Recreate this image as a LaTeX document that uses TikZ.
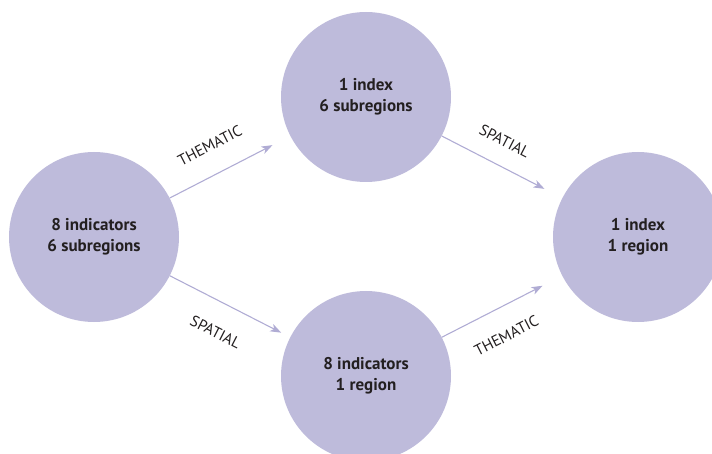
\documentclass[tikz,border=0pt]{standalone}
\usepackage{fontspec}
\setmainfont{PT Sans}
\usetikzlibrary{arrows.meta}

\definecolor{blobfill}{RGB}{190,187,219}
\definecolor{flowline}{RGB}{176,172,212}
\definecolor{inktext}{RGB}{35,31,32}

\begin{document}
\begin{tikzpicture}[x=1pt,y=-1pt,
    stage/.style={circle,fill=blobfill,minimum size=170pt,inner sep=0pt,
        align=center,text=inktext,font=\bfseries\fontsize{17}{21}\selectfont},
    flow/.style={draw=flowline,line width=1.1pt,
        -{Stealth[length=11pt,width=8pt,inset=3pt]}},
    tag/.style={sloped,inner sep=0pt,text=inktext,font=\fontsize{15.5}{16}\selectfont}]
    \useasboundingbox (0,0) rectangle (712,454);

    % the four stages
    \node[stage] (start)    at (94,237)  {8 indicators\\6 subregions};
    \node[stage] (indexsub) at (366,97)  {1 index\\6 subregions};
    \node[stage] (indreg)   at (366,376) {8 indicators\\1 region};
    \node[stage] (final)    at (638,237) {1 index\\1 region};

    % the two routes
    \draw[flow,shorten >=20pt] (start) -- (indexsub)
        node[tag,pos=0.44,above=22pt] {THEMATIC};
    \draw[flow,shorten >=20pt] (indexsub) -- (final)
        node[tag,pos=0.43,above=18pt] {SPATIAL};
    \draw[flow,shorten >=10pt] (start) -- (indreg)
        node[tag,pos=0.49,below=23pt] {SPATIAL};
    \draw[flow,shorten >=22pt] (indreg) -- (final)
        node[tag,pos=0.43,below=22pt] {THEMATIC};
\end{tikzpicture}
\end{document}
